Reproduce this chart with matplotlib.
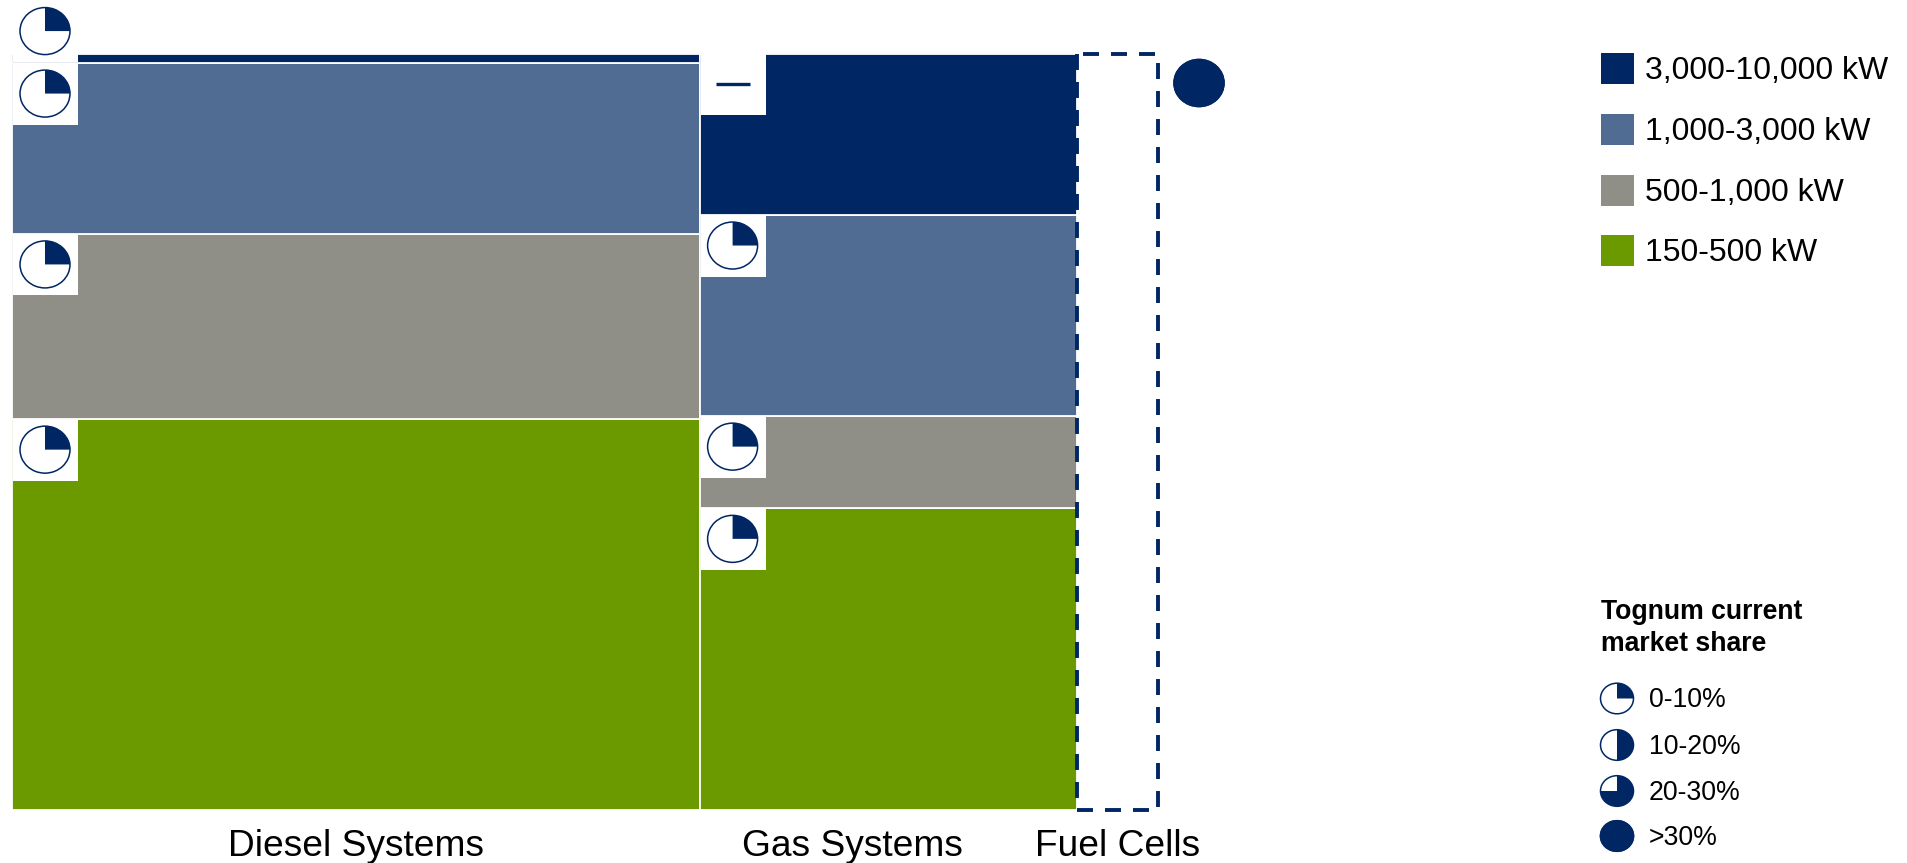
import matplotlib
matplotlib.use("Agg")
import matplotlib.pyplot as plt
from matplotlib.patches import Rectangle, Wedge
from matplotlib.transforms import Affine2D

plt.rcParams["font.family"] = ["Liberation Sans", "DejaVu Sans"]
plt.rcParams["lines.scale_dashes"] = False

W, H = 1908, 863
NAVY = "#002664"

# Market map: column widths and band heights are shares of the total (%)
systems = ["Diesel Systems", "Gas Systems", "Fuel Cells"]
column_share = [60.0, 32.95, 7.05]
bands = ["150-500 kW", "500-1,000 kW", "1,000-3,000 kW", "3,000-10,000 kW"]
band_colors = ["#6A9900", "#8F8F88", "#506C93", NAVY]
diesel_heights = [51.7, 24.5, 22.6, 1.2]
gas_heights = [39.9, 12.2, 26.6, 21.3]
fuel_cell_height = [100.0]

# Tognum share per cell, in filled quarters of the pie (None = no presence)
diesel_quarters = [1, 1, 1, 1]
gas_quarters = [1, 1, 1, None]
fuel_cell_quarters = [4]

share_labels = ["0-10%", "10-20%", "20-30%", ">30%"]
share_quarters = [1, 2, 3, 4]
share_title = "Tognum current\nmarket share"

fig = plt.figure(figsize=(W / 100, H / 100), dpi=100, facecolor="white")

# Chart axes run from 0-100 on both scales
ax = fig.add_axes([12 / W, 1 - 810 / H, 1146 / W, 756 / H])
ax.set_xlim(0, 100)
ax.set_ylim(0, 100)
ax.axis("off")

# Overlay in pixel units, y downwards, for icons and legends
ov = fig.add_axes([0, 0, 1, 1], zorder=5)
ov.set_xlim(0, W)
ov.set_ylim(H, 0)
ov.axis("off")
ov.patch.set_alpha(0)


def to_px(x, y):
    px, py = ax.transData.transform((x, y))
    return px, H - py


def pie_icon(cx, cy, rx, ry, quarters):
    """Harvey ball: a navy outline with the given quarters filled clockwise from 12."""
    tf = Affine2D().scale(rx, -ry).translate(cx, cy) + ov.transData
    ov.add_patch(Wedge((0, 0), 1, 0, 360, fc="white", ec=NAVY, lw=1.1, transform=tf))
    if quarters == 4:
        ov.add_patch(Wedge((0, 0), 1, 0, 360, fc=NAVY, ec=NAVY, lw=1.1, transform=tf))
    else:
        ov.add_patch(Wedge((0, 0), 1, 90 - 90 * quarters, 90, fc=NAVY, ec="none", transform=tf))


def cell_icon(x_left, y_bottom, y_top, quarters):
    """White tab in a segment's top-left corner holding the share marker."""
    box_w, box_h = 66, 61.5
    left, bottom = to_px(x_left, y_bottom)
    _, top = to_px(x_left, y_top)
    box_top = top if bottom - top > box_h else bottom - box_h - 1
    ov.add_patch(Rectangle((left + 1, box_top), box_w - 1, box_h, fc="white", ec="none"))
    cx, cy = left + 1 + 32, box_top + 30.5
    if quarters is None:
        ov.plot([cx - 17, cx + 17], [cy, cy], color=NAVY, lw=2.4, solid_capstyle="butt")
    else:
        pie_icon(cx, cy, 25, 23.5, quarters)


x_left = 0.0
for heights, quarters, width in zip(
    [diesel_heights, gas_heights], [diesel_quarters, gas_quarters], column_share
):
    bottom = 0.0
    cells = []
    for h, color, q in zip(heights, band_colors, quarters):
        ax.bar(x_left, h, width=width, bottom=bottom, align="edge",
               color=color, edgecolor="white", linewidth=1.3)
        cells.append((x_left, bottom, bottom + h, q))
        bottom += h
    for cell in cells:
        cell_icon(*cell)
    x_left += width

# Fuel cells: an emerging segment, outlined only with dashes
x_right = x_left + column_share[2]
y_top = fuel_cell_height[0]
ax.bar(x_left, y_top, width=column_share[2], align="edge", facecolor="white", edgecolor="none")
dash_style = dict(color=NAVY, lw=2.8, linestyle=(0, (11.5, 8.66)), clip_on=False,
                  dash_capstyle="butt", dash_joinstyle="miter", zorder=6)
ax.plot([x_left, x_right, x_right, x_left], [0, 0, y_top, y_top], **dash_style)
ax.plot([x_left, x_left], [y_top, 0], **dash_style)
fx, fy = to_px(x_right, y_top)
pie_icon(fx + 41, fy + 29, 25, 23.5, fuel_cell_quarters[0])

# Column captions centred by hand under each block
caption_x = [356, 852, 1118]
for name, cx in zip(systems, caption_x):
    ov.text(cx, 846, name, ha="center", va="center", fontsize=26.7, color="black")

# Band legend, largest class first
legend_y = [68.5, 129.5, 190.5, 250.5]
for label, color, y in zip(bands[::-1], band_colors[::-1], legend_y):
    ov.add_patch(Rectangle((1601, y - 15.5), 33, 31, fc=color, ec="none"))
    ov.text(1645, y + 2.5, label, ha="left", va="center", fontsize=23, color="black")

# Market share key
ov.text(1601, 627.5, share_title, ha="left", va="center", fontsize=19.2,
        fontweight="bold", color="black", linespacing=1.3)
key_y = [698.5, 745, 791, 836]
for label, q, y in zip(share_labels, share_quarters, key_y):
    pie_icon(1617, y, 16.5, 15.3, q)
    ov.text(1649, y + 1.5, label, ha="left", va="center", fontsize=19.2, color="black")

fig.savefig("out.png", dpi=100, facecolor="white")
